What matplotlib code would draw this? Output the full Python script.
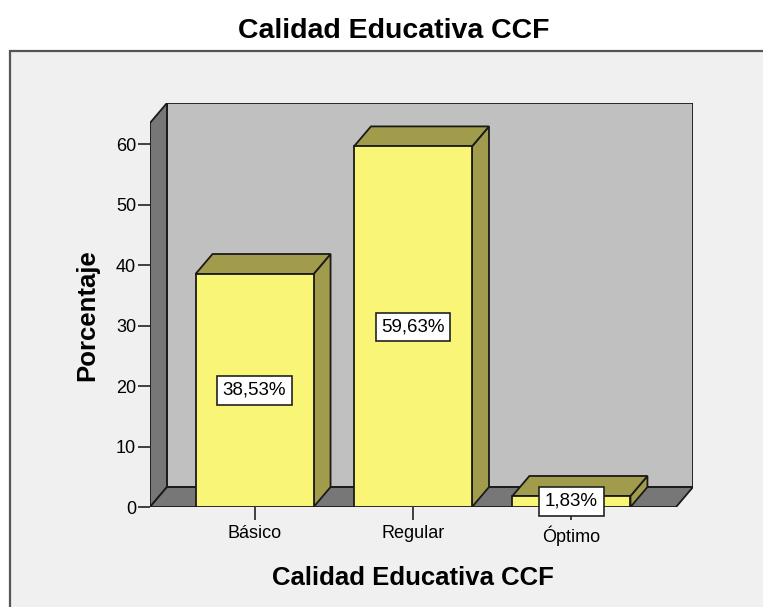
import matplotlib
matplotlib.use("Agg")
import matplotlib.pyplot as plt
from matplotlib.patches import Polygon, Rectangle

plt.rcParams["font.family"] = ["Liberation Sans", "DejaVu Sans"]

# data
categories = ["Básico", "Regular", "Óptimo"]
percentages = [38.53, 59.63, 1.83]
value_labels = ["38,53%", "59,63%", "1,83%"]
yticks = [0, 10, 20, 30, 40, 50, 60]
title = "Calidad Educativa CCF"
xlabel = "Calidad Educativa CCF"
ylabel = "Porcentaje"

# 3D look (data units)
X0, X1 = -0.66, 2.66      # floor front edge
DX, DY = 0.107, 3.3       # depth offset
WALL_H = 63.5
BAR_W = 0.745

FRONT = "#f9f677"
SHADE = "#a19c4b"
WALL = "#c0c0c0"
DARK = "#777777"
EDGE = "#1a1a1a"

W, H = 763, 607
fig = plt.figure(figsize=(W / 100, H / 100), dpi=100)
fig.patch.set_facecolor("white")

# outer panel frame, drawn in a background axes
bg = fig.add_axes([0, 0, 1, 1], zorder=0)
bg.set_xlim(0, W)
bg.set_ylim(H, 0)
bg.axis("off")
bg.add_patch(Rectangle((10, 51), W, H, facecolor="#f0f0f0",
                       edgecolor="#555555", lw=1.6))

ax = fig.add_axes([150 / W, (H - 507) / H, (693 - 150) / W, (507 - 103) / H], zorder=2)
ax.set_xlim(X0, X1 + DX)
ax.set_ylim(0, WALL_H + DY)
ax.patch.set_visible(False)
for s in ax.spines.values():
    s.set_visible(False)

lw = 1.3
# back wall
ax.add_patch(Rectangle((X0 + DX, DY), X1 - X0, WALL_H, facecolor=WALL,
                       edgecolor=EDGE, lw=lw, zorder=1))
# left wall
ax.add_patch(Polygon([(X0, 0), (X0 + DX, DY), (X0 + DX, WALL_H + DY), (X0, WALL_H)],
                     closed=True, facecolor=DARK, edgecolor=EDGE, lw=lw, zorder=2))
# floor
ax.add_patch(Polygon([(X0, 0), (X1, 0), (X1 + DX, DY), (X0 + DX, DY)],
                     closed=True, facecolor=DARK, edgecolor=EDGE, lw=lw, zorder=2))

for i, (v, lab) in enumerate(zip(percentages, value_labels)):
    l, r = i - BAR_W / 2, i + BAR_W / 2
    ax.add_patch(Polygon([(r, 0), (r + DX, DY), (r + DX, v + DY), (r, v)],
                         closed=True, facecolor=SHADE, edgecolor=EDGE, lw=lw, zorder=3))
    ax.add_patch(Polygon([(l, v), (r, v), (r + DX, v + DY), (l + DX, v + DY)],
                         closed=True, facecolor=SHADE, edgecolor=EDGE, lw=lw, zorder=3))
    ax.add_patch(Rectangle((l, 0), BAR_W, v, facecolor=FRONT,
                           edgecolor=EDGE, lw=lw, zorder=4))
    ax.text(i, v / 2, lab, ha="center", va="center", fontsize=13.5, zorder=6,
            bbox=dict(boxstyle="square,pad=0.3", facecolor="white",
                      edgecolor="#222222", lw=1.2))

ax.set_yticks(yticks)
ax.set_yticklabels([str(t) for t in yticks], fontsize=13)
ax.set_xticks(range(len(categories)))
ax.set_xticklabels(categories, fontsize=13)
ax.tick_params(axis="y", length=9, width=1.2, pad=1, color="#222222")
ax.tick_params(axis="x", length=9, width=1.2, pad=4, color="#222222")

# axis labels centred on the front floor edge / front wall edge
ax.set_xlabel(xlabel, fontsize=18.5, fontweight="bold")
ax.set_ylabel(ylabel, fontsize=18.5, fontweight="bold")
xfrac = ((X0 + X1) / 2 - X0) / (X1 + DX - X0)
yfrac = (WALL_H / 2) / (WALL_H + DY)
ax.xaxis.set_label_coords(xfrac, -0.145)
ax.yaxis.set_label_coords(-0.094, yfrac)

fig.text(394 / W, 1 - 31 / H, title, ha="center", va="center",
         fontsize=20.5, fontweight="bold")

fig.savefig("out.png", dpi=100)
